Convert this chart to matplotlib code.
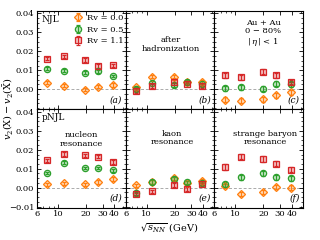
import numpy as np
import matplotlib
matplotlib.use('Agg')
import matplotlib.pyplot as plt
from matplotlib.ticker import MultipleLocator, FixedLocator, NullFormatter

plt.rcParams['font.family'] = ['DejaVu Serif']
plt.rcParams['mathtext.fontset'] = 'dejavuserif'

energies = [7.7, 11.5, 19.6, 27.0, 39.0]
rv_labels = ['Rv = 0.0', 'Rv = 0.5', 'Rv = 1.1']
colors = ['#ff7f0e', '#2ca02c', '#d62728']
markers = ['D', 'o', 's']

# panel values: rows are Rv = 0.0, 0.5, 1.1
panel_a = [[0.0035, 0.0019, -0.0002, 0.0014, 0.0023],
           [0.0109, 0.0097, 0.0087, 0.0094, 0.0069],
           [0.0161, 0.0173, 0.0154, 0.0123, 0.0126]]
err_a = [0.0009, 0.0007, 0.0009]

panel_b = [[0.0010, 0.0066, 0.0066, 0.0038, 0.0040],
           [0.0000, 0.0035, 0.0022, 0.0040, 0.0026],
           [-0.0010, 0.0017, 0.0040, 0.0030, 0.0017]]
err_b = [0.0009, 0.0009, 0.0009]

panel_c = [[-0.0055, -0.0060, -0.0054, -0.0033, -0.0016],
           [0.0005, 0.0010, 0.0003, 0.0028, 0.0026],
           [0.0074, 0.0064, 0.0092, 0.0074, 0.0038]]
err_c = [0.0013, 0.0013, 0.0013]

panel_d = [[0.0017, 0.0023, 0.0017, 0.0031, 0.0045],
           [0.0078, 0.0132, 0.0104, 0.0104, 0.0092],
           [0.0144, 0.0178, 0.0170, 0.0164, 0.0135]]
err_d = [0.0009, 0.0007, 0.0009]

panel_e = [[0.0012, 0.0030, 0.0050, 0.0026, 0.0038],
           [-0.0030, 0.0030, 0.0045, 0.0028, 0.0024],
           [-0.0035, -0.0019, 0.0014, -0.0007, 0.0017]]
err_e = [0.0009, 0.0009, 0.0009]

panel_f = [[0.0010, -0.0033, -0.0023, 0.0003, 0.0000],
           [0.0017, 0.0054, 0.0076, 0.0054, 0.0050],
           [0.0109, 0.0164, 0.0152, 0.0126, 0.0095]]
err_f = [0.0012, 0.0014, 0.0014]

panel_data = [panel_a, panel_b, panel_c, panel_d, panel_e, panel_f]
panel_err = [err_a, err_b, err_c, err_d, err_e, err_f]
panel_tags = ['(a)', '(b)', '(c)', '(d)', '(e)', '(f)']
xtick_vals = [6, 10, 20, 30, 40]
xtick_labels = ['6', '10', '20', '30', '40']

fig, axes = plt.subplots(2, 3, figsize=(3.2, 2.4), dpi=100)
fig.subplots_adjust(left=0.116, right=0.947, top=0.956, bottom=0.135, wspace=0, hspace=0)

for k, ax in enumerate(axes.flat):
    row, col = divmod(k, 3)
    vals = panel_data[k]
    errs = panel_err[k]
    ax.axhline(0, color='#aaaaaa', lw=0.7, dashes=(3, 2), zorder=1)
    for i in range(3):
        ax.errorbar(energies, vals[i], yerr=errs[i], fmt=markers[i],
                    color=colors[i], mec=colors[i], mfc=matplotlib.colors.to_rgba(colors[i], 0.3),
                    ms=4.5 if markers[i] != 'D' else 4.0, mew=0.9, elinewidth=0.8, capsize=1.5,
                    capthick=0.8, label=rv_labels[i], zorder=3)
    ax.set_xscale('log')
    ax.set_xlim(6, 53)
    ax.set_ylim(-0.0105, 0.0415)
    ax.xaxis.set_major_locator(FixedLocator(xtick_vals))
    ax.xaxis.set_minor_locator(FixedLocator([7, 8, 9, 50]))
    ax.xaxis.set_minor_formatter(NullFormatter())
    if row == 1:
        ax.set_xticklabels(xtick_labels)
    else:
        ax.set_xticklabels([])
    if row == 0:
        yt = [0.0, 0.01, 0.02, 0.03, 0.04]
        yl = ['0.00', '0.01', '0.02', '0.03', '0.04']
    else:
        yt = [-0.01, 0.0, 0.01, 0.02, 0.03, 0.04]
        yl = ['−0.01', '0.00', '0.01', '0.02', '0.03', '0.04']
    ax.set_yticks(yt)
    ax.set_yticklabels(yl if col == 0 else [])
    ax.yaxis.set_minor_locator(MultipleLocator(0.0025))
    ax.tick_params(which='both', direction='in', top=True, right=True, labelsize=6, pad=2)
    ax.tick_params(which='major', length=3, width=0.6)
    ax.tick_params(which='minor', length=1.6, width=0.5)
    for s in ax.spines.values():
        s.set_linewidth(0.8)
    ax.text(0.96, 0.05, panel_tags[k], transform=ax.transAxes, ha='right', va='bottom',
            fontsize=6.5, style='italic')

axes[0, 0].text(0.05, 0.96, 'NJL', transform=axes[0, 0].transAxes, ha='left', va='top', fontsize=6.5)
axes[1, 0].text(0.05, 0.96, 'pNJL', transform=axes[1, 0].transAxes, ha='left', va='top', fontsize=6.5)
axes[0, 0].legend(loc='upper left', fontsize=6, frameon=False, handlelength=1.2,
                  handletextpad=0.5, labelspacing=0.45, borderaxespad=0.0,
                  bbox_to_anchor=(0.37, 1.0))

txt = dict(ha='center', va='center', fontsize=6, linespacing=1.05)
axes[0, 1].text(0.51, 0.655, 'after\nhadronization', transform=axes[0, 1].transAxes, **txt)
axes[0, 2].text(0.55, 0.77, 'Au + Au\n0 − 80%\n$|\\,\\eta\\,|$ < 1', transform=axes[0, 2].transAxes, **txt)
axes[1, 0].text(0.5, 0.69, 'nucleon\nresonance', transform=axes[1, 0].transAxes, **txt)
axes[1, 1].text(0.525, 0.705, 'kaon\nresonance', transform=axes[1, 1].transAxes, **txt)
axes[1, 2].text(0.57, 0.705, 'strange baryon\nresonance', transform=axes[1, 2].transAxes, **txt)

fig.text(0.025, 0.545, '$v_2(\\mathrm{X}) - v_2(\\bar{\\mathrm{X}})$', rotation=90,
         ha='center', va='center', fontsize=7)
fig.text(0.53, 0.05, '$\\sqrt{s_{NN}}$ (GeV)', ha='center', va='center', fontsize=7)

fig.savefig('out.png', dpi=100)
